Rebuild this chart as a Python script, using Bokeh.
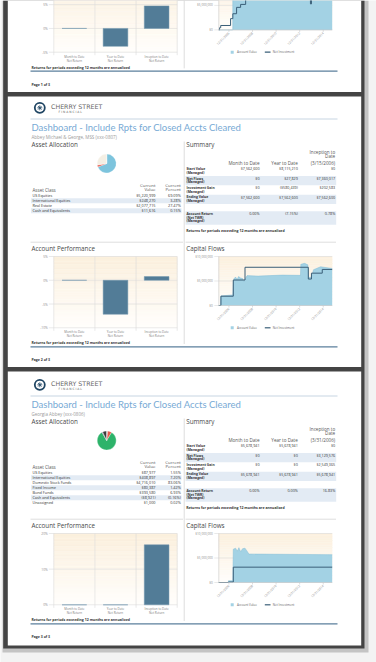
import numpy as np
import pandas as pd
from bokeh.plotting import figure
from bokeh.models import Range1d
from bokeh.core.properties import value
from bokeh.embed import file_html
from bokeh.resources import INLINE

# ====================== DATA ======================
title_text = "Dashboard - Include Rpts for Closed Accts Cleared"
note_text = "Returns for periods exceeding 12 months are annualized"
brand_name = "CHERRY STREET"
brand_sub = "F   I   N   A   N   C   I   A   L"
page_labels = ["Page 1 of 3", "Page 2 of 3", "Page 3 of 3"]

p2_client = "Abbey Michael & George, MSS (xxx-0807)"
p3_client = "Georgia Abbey (xxx-0806)"

# Asset allocation tables
p2_classes = ["US Equities", "International Equities", "Real Estate", "Cash and Equivalents"]
p2_values = [5220999, 248270, 2077715, 11616]
p2_percents = [69.09, 3.28, 27.47, 0.15]

p3_classes = ["US Equities", "International Equities", "Domestic Stock Funds", "Fixed Income",
              "Bond Funds", "Cash and Equivalents", "Unassigned"]
p3_values = [87977, 408897, 4716010, 80387, 393580, -8921, 1000]
p3_percents = [1.55, 7.20, 83.06, 1.42, 6.93, -0.16, 0.02]

# Summary tables
summary_columns = ["Month to Date", "Year to Date"]
summary_rows = [["Start Value", "(Managed)"], ["Net Flows", "(Managed)"], ["Investment Gain", "(Managed)"],
                ["Ending Value", "(Managed)"], ["Account Return", "(Net TWR)", "(Managed)"]]
p2_inception = "3/15/2006"
p2_start_value = [7562600, 8115210, 0]
p2_net_flows = [0, 27829, 7360017]
p2_investment_gain = [0, -580439, 202583]
p2_ending_value = [7562600, 7562600, 7562600]
p2_account_return = [0.00, -7.15, 0.78]

p3_inception = "3/31/2006"
p3_start_value = [5678941, 5678941, 0]
p3_net_flows = [0, 0, 3129576]
p3_investment_gain = [0, 0, 2549365]
p3_ending_value = [5678941, 5678941, 5678941]
p3_account_return = [0.00, 0.00, 16.83]

# Account performance
perf_categories = [["Month to Date", "Net Return"], ["Year to Date", "Net Return"],
                   ["Inception to Date", "Net Return"]]
p1_perf = [0.00, -3.77, 4.74]
p2_perf = [0.00, -7.15, 0.78]
p3_perf = [0.00, 0.00, 16.83]
p1_perf_ticks = [-5, 0, 5, 10]
p2_perf_ticks = [-10, -5, 0, 5]
p3_perf_ticks = [0, 10, 20]

# Capital flows
flow_start, flow_end = "2006-02-20", "2015-10-05"
flow_tick_dates = ["2006-12-31", "2008-12-31", "2010-12-31", "2012-12-31", "2014-12-31"]
flow_tick_labels = ["12/31/2006", "12/31/2008", "12/31/2010", "12/31/2012", "12/31/2014"]
flow_value_ticks = [0, 5000000, 10000000]
flow_value_labels = ["$0", "$5,000,000", "$10,000,000"]
flow_legend = ["Account Value", "Net Investment"]

p1_value_dates = ["2006-02-20", "2007-04-28", "2007-05-01", "2015-10-05"]
p1_value = [0, 0, 11500000, 12000000]
p1_invest_dates = ["2006-02-20", "2006-03-15", "2006-04-20", "2007-02-20", "2007-05-01", "2007-08-25",
                   "2007-12-28", "2008-06-01", "2013-11-30", "2013-12-31", "2015-10-05"]
p1_invest = [0, 450000, 900000, 2300000, 3300000, 4600000, 5200000, 8500000, 5300000, 8800000, 8800000]

p2_value_dates = ["2006-02-20", "2006-04-20", "2006-04-27", "2007-05-01", "2007-05-15", "2007-06-10",
                  "2007-07-25", "2007-09-10", "2007-10-25", "2007-12-28", "2008-02-28", "2008-04-15",
                  "2008-06-01", "2008-07-15", "2009-06-30", "2011-06-30", "2013-01-25", "2013-02-05",
                  "2013-06-01", "2013-09-10", "2013-09-30", "2013-12-31", "2014-03-05", "2014-10-10",
                  "2015-10-05"]
p2_value = [0, 0, 1950000, 2150000, 4800000, 5500000, 5800000, 5300000, 5900000, 5600000, 5500000,
            4900000, 5600000, 6100000, 6000000, 6200000, 6150000, 8400000, 8600000, 8300000, 5700000,
            5800000, 7300000, 7900000, 7562600]
p2_invest_dates = ["2006-02-20", "2006-04-27", "2007-05-15", "2008-05-12", "2013-09-25", "2013-12-31",
                   "2014-12-01", "2015-10-05"]
p2_invest = [0, 1900000, 5200000, 7800000, 5400000, 6600000, 7360017, 7360017]

p3_value_dates = ["2006-02-20", "2006-12-10", "2006-12-15", "2007-05-01", "2007-05-15", "2007-07-25",
                  "2007-09-15", "2007-11-05", "2007-12-28", "2008-02-28", "2008-05-12", "2008-07-15",
                  "2008-09-10", "2015-10-05"]
p3_value = [0, 0, 350000, 350000, 6800000, 7000000, 6400000, 7100000, 6300000, 6900000, 7000000,
            6400000, 5800000, 5678941]
p3_invest_dates = ["2006-02-20", "2006-12-15", "2007-05-15", "2015-10-05"]
p3_invest = [0, 100000, 3129576, 3129576]

# ====================== STYLE ======================
FONT = "Open Sans"
class_colors = {"US Equities": "#7dc4dd", "International Equities": "#e8594b", "Real Estate": "#f4efe4",
                "Cash and Equivalents": "#c9b27c", "Domestic Stock Funds": "#2db36a",
                "Fixed Income": "#8a63a8", "Bond Funds": "#3b3b3b", "Unassigned": "#a0a0a0"}
BAR = "#527c97"
AREA = "#a3d2e4"
NETLINE = "#3a5f78"
GRID = "#dadada"

W, H = 376, 662
p = figure(width=W, height=H, x_range=Range1d(0, W), y_range=Range1d(H, 0),
           output_backend="svg", toolbar_location=None, min_border=0,
           x_axis_location=None, y_axis_location=None)
p.grid.visible = False
p.outline_line_color = None
p.background_fill_color = "#f3f3f3"
p.border_fill_color = "#f3f3f3"


def T(x, y, s, size, color="#333333", align="left", baseline="middle", font=FONT,
      style="normal", angle=0.0):
    p.text(x=[x], y=[y], text=[s], text_font=value(font), text_font_size=f"{size}px",
           text_color=color, text_align=align, text_baseline=baseline,
           text_font_style=style, angle=angle)


def money(v):
    return f"(${abs(v):,.0f})" if v < 0 else f"${v:,.0f}"


def pct(v):
    return f"({abs(v):.2f}%)" if v < 0 else f"{v:.2f}%"


def to_ms(dates):
    idx = pd.to_datetime(dates)
    return list((idx - pd.Timestamp("1970-01-01")) // pd.Timedelta(milliseconds=1))


def gradient(x0, x1, yt, yb, n=28):
    e = np.linspace(yt, yb, n + 1)
    t = np.linspace(0, 1, n)
    c0, c1 = np.array([252, 240, 222]), np.array([255, 254, 251])
    cols = ["#%02x%02x%02x" % tuple(int(round(v)) for v in (c0 + (c1 - c0) * k)) for k in t]
    p.quad(left=x0, right=x1, top=e[:-1], bottom=e[1:], fill_color=cols, line_color=cols, line_width=0.3)


# ---------------- page frames ----------------
p.quad(left=2.0, right=368.0, top=0, bottom=652, fill_color="#c4c4c4", line_color=None)
p.quad(left=2.7, right=364.0, top=0, bottom=648, fill_color="#444444", line_color=None)
p.quad(left=7.3, right=360.7, top=[-5, 96.0, 371.0], bottom=[91.5, 366.5, 645.0],
       fill_color="white", line_color=None)


def draw_top(off, client, classes, values, percents, inception, srows):
    # logo
    p.scatter(x=[39.3], y=[107.3 + off], marker="circle", size=10, fill_color="white",
              line_color="#1f4563", line_width=1.8)
    p.scatter(x=[39.3], y=[107.3 + off], marker="asterisk", size=5, line_color="#1f4563", line_width=0.8)
    T(50.5, 105.8 + off, brand_name, 6.3, "#666666", font="DejaVu Sans")
    T(58.0, 111.0 + off, brand_sub, 3.0, "#666666", font="DejaVu Sans")
    p.segment(x0=30, y0=118.5 + off, x1=337, y1=118.5 + off, line_color="#b9cadb", line_width=0.8)
    T(31, 126.5 + off, title_text, 9.5, "#77aad5", font="Lato")
    T(31, 136.6 + off, client, 4.5, "#9a9a9a")
    T(31, 144.0 + off, "Asset Allocation", 6.3, "#4a4a4a")
    T(185.7, 144.0 + off, "Summary", 6.3, "#4a4a4a")

    # pie (only positive slices)
    pos = np.clip(np.array(percents, dtype=float), 0, None)
    frac = pos / pos.sum()
    cum = np.concatenate([[0.0], np.cumsum(frac)])
    keep = frac > 0
    starts = (np.pi / 2 - 2 * np.pi * cum[:-1])[keep]
    ends = (np.pi / 2 - 2 * np.pi * cum[1:])[keep]
    cols = [class_colors[c] for c, k in zip(classes, keep) if k]
    p.wedge(x=106.2, y=163.0 + off, radius=9.5, radius_units="screen",
            start_angle=list(starts), end_angle=list(ends), direction="clock",
            fill_color=cols, line_color="white", line_width=0.3)

    # asset table
    T(32, 189.0 + off, "Asset Class", 4.5, "#555555")
    for xr, lines in ((155.0, ("Current", "Value")), (180.3, ("Current", "Percent"))):
        T(xr, 184.3 + off, lines[0], 4.3, "#555555", align="right")
        T(xr, 188.3 + off, lines[1], 4.3, "#555555", align="right")
    for i, (c, v, pc) in enumerate(zip(classes, values, percents)):
        y = 195.2 + 5.0 * i + off
        if i % 2 == 1:
            p.quad(left=30.5, right=181.0, top=y - 2.45, bottom=y + 2.45, fill_color="#e3ebf4", line_color=None)
        T(32, y, c, 3.8, "#333333")
        T(155.0, y, money(v), 3.8, "#333333", align="right")
        T(180.3, y, pct(pc), 3.8, "#333333", align="right")

    # summary table
    col_right = [259.0, 297.3, 334.7]
    T(334.7, 151.0 + off, "Inception to", 4.6, "#555555", align="right")
    T(334.7, 155.6 + off, "Date", 4.6, "#555555", align="right")
    for xr, h in zip(col_right, summary_columns + [f"({inception})"]):
        T(xr, 162.3 + off, h, 4.6, "#555555", align="right")
    tops = [166.0, 175.5, 185.0, 194.3, 210.7]
    bots = [175.5, 184.7, 194.3, 203.4, 224.2]
    shaded = [False, True, False, True, True]
    for k, (lab, vals) in enumerate(zip(summary_rows, srows)):
        yt, yb = tops[k] + off, bots[k] + off
        if shaded[k]:
            p.quad(left=185.0, right=335.7, top=yt, bottom=yb, fill_color="#e3ebf4", line_color=None)
        for j, line in enumerate(lab):
            T(186.0, yt + 2.1 + 3.8 * j, line, 3.4, "#333333", style="bold")
        for xr, v in zip(col_right, vals):
            T(xr, yt + 2.2, pct(v) if k == 4 else money(v), 3.7, "#333333", align="right")
    T(185.7, 230.0 + off, note_text, 3.5, "#333333", style="bold")

    p.segment(x0=[30, 185], y0=241.7 + off, x1=[182.5, 335.5], y1=241.7 + off,
              line_color="#d5d5d5", line_width=0.8)
    T(31, 247.7 + off, "Account Performance", 6.3, "#4a4a4a")
    T(185.7, 247.7 + off, "Capital Flows", 6.3, "#4a4a4a")


def draw_perf(off, vals, ticks):
    x0, x1, yt, yb = 53.3, 176.7, 256.0 + off, 327.3 + off
    gradient(x0, x1, yt, yb)
    lo, hi = ticks[0], ticks[-1]
    s = p.subplot(x_source=Range1d(0, 3), y_source=Range1d(lo, hi),
                  x_target=Range1d(x0, x1), y_target=Range1d(yb, yt))
    ext_x = 3 * 5.0 / (x1 - x0)
    ext_y = (hi - lo) * 3.0 / (yb - yt)
    s.segment(x0=[-ext_x] * len(ticks), y0=ticks, x1=[3] * len(ticks), y1=ticks,
              line_color=GRID, line_width=0.6)
    s.segment(x0=[0, 1, 2, 3], y0=[lo - ext_y] * 4, x1=[0, 1, 2, 3], y1=[hi] * 4,
              line_color=GRID, line_width=0.6)
    s.vbar(x=[0.5, 1.5, 2.5], top=vals, bottom=0, width=0.6, fill_color=BAR,
           line_color="#7096ae", line_width=0.5)
    # tick labels that land inside the page view
    shown = [t for t in ticks if yb - (t - lo) / (hi - lo) * (yb - yt) > 2]
    s.text(x=[0] * len(shown), y=shown, text=[f"{t}%" for t in shown], x_offset=-6,
           text_font=value(FONT), text_font_size="3.3px", text_color="#8a8a8a",
           text_align="right", text_baseline="middle")
    for j in range(2):
        s.text(x=[0.5, 1.5, 2.5], y=[lo] * 3, text=[c[j] for c in perf_categories], y_offset=4.4 + 4.0 * j,
               text_font=value(FONT), text_font_size="3.0px", text_color="#7a7a7a",
               text_align="center", text_baseline="middle")


def draw_flows(off, vdates, vvals, idates, ivals):
    x0, x1, yt, yb = 218.3, 331.7, 256.0 + off, 305.0 + off
    gradient(x0, x1, yt, yb)
    xs0, xs1 = to_ms([flow_start, flow_end])
    lo, hi = flow_value_ticks[0], flow_value_ticks[-1]
    s = p.subplot(x_source=Range1d(xs0, xs1), y_source=Range1d(lo, hi),
                  x_target=Range1d(x0, x1), y_target=Range1d(yb, yt))
    ext_x = (xs1 - xs0) * 4.5 / (x1 - x0)
    s.segment(x0=[xs0 - ext_x] * 3, y0=flow_value_ticks, x1=[xs1] * 3, y1=flow_value_ticks,
              line_color=GRID, line_width=0.6)
    vx = to_ms(vdates)
    s.varea(x=vx, y1=[0] * len(vx), y2=vvals, fill_color=AREA, fill_alpha=1.0)
    s.line(x=vx, y=vvals, line_color="#82bcd6", line_width=0.5)
    s.step(x=to_ms(idates), y=ivals, mode="after", line_color=NETLINE, line_width=1.0)
    s.segment(x0=[xs0], y0=[lo], x1=[xs0], y1=[hi], line_color="#c8c8c8", line_width=0.6)
    s.segment(x0=[xs0], y0=[lo], x1=[xs1], y1=[lo], line_color="#c8c8c8", line_width=0.6)
    tx = to_ms(flow_tick_dates)
    ext_y = (hi - lo) * 2.0 / (yb - yt)
    s.segment(x0=tx, y0=[lo] * len(tx), x1=tx, y1=[lo - ext_y] * len(tx), line_color="#c8c8c8", line_width=0.6)
    shown = [(v, l) for v, l in zip(flow_value_ticks, flow_value_labels)
             if yb - (v - lo) / (hi - lo) * (yb - yt) > 2]
    s.text(x=[xs0] * len(shown), y=[v for v, _ in shown], text=[l for _, l in shown], x_offset=-6,
           text_font=value(FONT), text_font_size="3.1px", text_color="#8a8a8a",
           text_align="right", text_baseline="middle")
    s.text(x=tx, y=[lo] * len(tx), text=flow_tick_labels, y_offset=3.0, angle=np.pi / 4,
           text_font=value(FONT), text_font_size="3.1px", text_color="#8a8a8a",
           text_align="right", text_baseline="middle")
    # legend
    ly = 327.3 + off
    p.scatter(x=[231.7], y=[ly], marker="square", size=3, fill_color=AREA, line_color=None)
    T(236.5, ly, flow_legend[0], 3.0, "#666666")
    p.segment(x0=[264.3], y0=[ly], x1=[270.0], y1=[ly], line_color=NETLINE, line_width=1.2)
    T(272.3, ly, flow_legend[1], 3.0, "#666666")


def draw_bottom(off, label):
    p.segment(x0=[183.7], y0=[max(141.0 + off, 0)], x1=[183.7], y1=[343.5 + off],
              line_color="#cfcfcf", line_width=0.7)
    T(31, 342.3 + off, note_text, 3.5, "#333333", style="bold")
    p.segment(x0=[30], y0=[346.3 + off], x1=[337], y1=[346.3 + off], line_color="#5b7f9c", line_width=1.3)
    T(31, 359.3 + off, label, 3.5, "#333333", style="bold")


# page 1 (only its lower part is visible)
o1 = -275.6
draw_perf(o1, p1_perf, p1_perf_ticks)
draw_flows(o1, p1_value_dates, p1_value, p1_invest_dates, p1_invest)
draw_bottom(o1, page_labels[0])

# page 2
o2 = 0.0
draw_top(o2, p2_client, p2_classes, p2_values, p2_percents, p2_inception,
         [p2_start_value, p2_net_flows, p2_investment_gain, p2_ending_value, p2_account_return])
draw_perf(o2, p2_perf, p2_perf_ticks)
draw_flows(o2, p2_value_dates, p2_value, p2_invest_dates, p2_invest)
draw_bottom(o2, page_labels[1])

# page 3
o3 = 277.0
draw_top(o3, p3_client, p3_classes, p3_values, p3_percents, p3_inception,
         [p3_start_value, p3_net_flows, p3_investment_gain, p3_ending_value, p3_account_return])
draw_perf(o3, p3_perf, p3_perf_ticks)
draw_flows(o3, p3_value_dates, p3_value, p3_invest_dates, p3_invest)
draw_bottom(o3, page_labels[2])

open("out.html", "w").write(file_html(p, INLINE))
